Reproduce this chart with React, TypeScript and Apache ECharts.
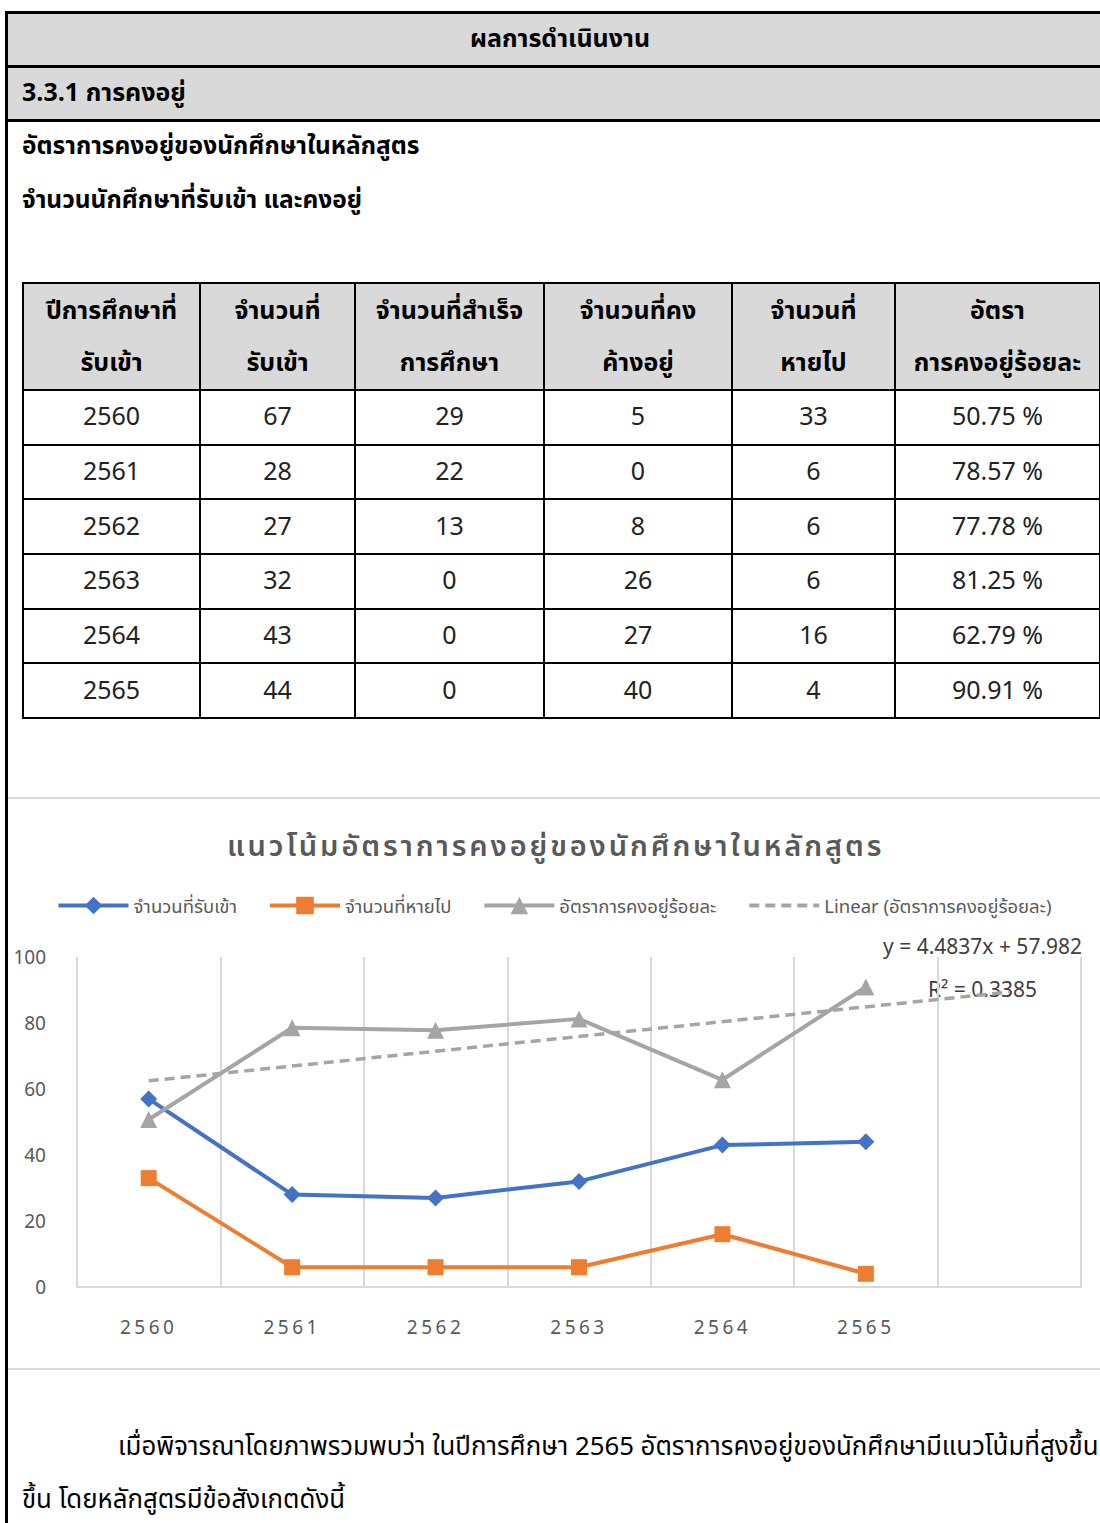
import React, { useEffect, useRef } from "react";
import * as echarts from "echarts";

// ---- table data ----
const years = ["2560", "2561", "2562", "2563", "2564", "2565"];
const admitted = [67, 28, 27, 32, 43, 44];
const graduated = [29, 22, 13, 0, 0, 0];
const remaining = [5, 0, 8, 26, 27, 40];
const lost = [33, 6, 6, 6, 16, 4];
const retention = [50.75, 78.57, 77.78, 81.25, 62.79, 90.91];

// ---- chart data (as plotted) ----
const chartCategories = ["2560", "2561", "2562", "2563", "2564", "2565", ""];
const admittedPlotted = [57, 28, 27, 32, 43, 44];
const lostPlotted = [33, 6, 6, 6, 16, 4];
const retentionPlotted = [50.75, 78.57, 77.78, 81.25, 62.79, 90.91];
const trendPoints = [62.47, null, null, null, null, null, 89.37];
const yTicks = [0, 20, 40, 60, 80, 100];

const chartTitle = "แนวโน้มอัตราการคงอยู่ของนักศึกษาในหลักสูตร";
const seriesNames = [
  "จำนวนที่รับเข้า",
  "จำนวนที่หายไป",
  "อัตราการคงอยู่ร้อยละ",
  "Linear (อัตราการคงอยู่ร้อยละ)",
];
const equationText = "y = 4.4837x + 57.982";
const r2Text = "R² = 0.3385";

const headerCols = [
  ["ปีการศึกษาที่", "รับเข้า"],
  ["จำนวนที่", "รับเข้า"],
  ["จำนวนที่สำเร็จ", "การศึกษา"],
  ["จำนวนที่คง", "ค้างอยู่"],
  ["จำนวนที่", "หายไป"],
  ["อัตรา", "การคงอยู่ร้อยละ"],
];
const colWidths = [177, 155, 189, 188, 163, 205];

const THAI = "Tahoma, 'Noto Sans Thai', 'Noto Sans', 'Leelawadee UI', sans-serif";
const CHARTFONT = "'Noto Sans', 'Noto Sans Thai', Tahoma, sans-serif";

function Chart() {
  const ref = useRef<HTMLDivElement>(null);
  useEffect(() => {
    if (!ref.current) return;
    const el = ref.current;
    const chart = echarts.init(el, undefined, { renderer: "svg" });
    const blue = "#4472C4";
    const orange = "#ED7D31";
    const gray = "#A5A5A5";
    const spaceTexts = () => {
      el.querySelectorAll("text").forEach((t) => {
        const s = t.textContent || "";
        if (s === chartTitle) {
          (t as SVGTextElement).style.letterSpacing = "2.9px";
        } else if (years.indexOf(s) >= 0) {
          (t as SVGTextElement).style.letterSpacing = "3.5px";
        }
      });
    };
    chart.on("finished", spaceTexts);
    chart.setOption({
      animation: false,
      backgroundColor: "#ffffff",
      title: {
        text: chartTitle,
        left: 214,
        top: 26,
        textStyle: {
          fontSize: 29,
          fontWeight: 600,
          color: "#595959",
          fontFamily: CHARTFONT,
        },
      },
      legend: {
        top: 92,
        left: "center",
        itemWidth: 70,
        itemHeight: 22,
        itemGap: 31,
        lineStyle: { width: 4 },
        textStyle: { fontSize: 18.5, color: "#595959", fontFamily: CHARTFONT },
        data: [
          seriesNames[0],
          seriesNames[1],
          seriesNames[2],
          { name: seriesNames[3], itemStyle: { opacity: 0 } },
        ],
      },
      grid: { left: 69, right: 19, top: 158, bottom: 81 },
      xAxis: {
        type: "category",
        data: chartCategories,
        boundaryGap: true,
        axisLine: { show: true, lineStyle: { color: "#d9d9d9", width: 2 } },
        axisTick: { show: false },
        splitLine: { show: true, lineStyle: { color: "#d9d9d9", width: 2 } },
        axisLabel: {
          margin: 30,
          fontSize: 19,
          color: "#595959",
          fontFamily: CHARTFONT,
          interval: 0,
        },
      },
      yAxis: {
        type: "value",
        min: yTicks[0],
        max: yTicks[yTicks.length - 1],
        interval: 20,
        axisLine: { show: false },
        axisTick: { show: false },
        splitLine: { show: false },
        axisLabel: {
          margin: 31,
          fontSize: 19,
          color: "#595959",
          fontFamily: CHARTFONT,
          padding: [0, 0, 6, 0],
        },
      },
      series: [
        {
          name: seriesNames[0],
          type: "line",
          data: admittedPlotted,
          symbol: "diamond",
          symbolSize: 17,
          color: blue,
          lineStyle: { width: 4, color: blue },
          itemStyle: { color: blue },
          z: 3,
        },
        {
          name: seriesNames[1],
          type: "line",
          data: lostPlotted,
          symbol: "rect",
          symbolSize: 16,
          color: orange,
          lineStyle: { width: 4, color: orange },
          itemStyle: { color: orange },
          z: 3,
        },
        {
          name: seriesNames[2],
          type: "line",
          data: retentionPlotted,
          symbol: "triangle",
          symbolSize: 17,
          color: gray,
          lineStyle: { width: 4, color: gray },
          itemStyle: { color: gray },
          z: 3,
        },
        {
          name: seriesNames[3],
          type: "line",
          data: trendPoints,
          connectNulls: true,
          symbol: "none",
          color: gray,
          lineStyle: { width: 3.5, color: gray, type: [10, 6] },
          itemStyle: { color: gray },
          z: 2,
        },
      ],
      graphic: [
        {
          type: "text",
          left: 875,
          top: 136,
          style: {
            text: equationText,
            fontSize: 21,
            fill: "#404040",
            fontFamily: CHARTFONT,
          },
        },
        {
          type: "text",
          left: 920,
          top: 179,
          style: {
            text: r2Text,
            fontSize: 21,
            fill: "#404040",
            fontFamily: CHARTFONT,
          },
        },
      ],
    });
    spaceTexts();
    return () => chart.dispose();
  }, []);
  return (
    <div
      ref={ref}
      style={{ position: "absolute", left: 8, top: 799, width: 1092, height: 569 }}
    />
  );
}

export default function App() {
  const abs = (o: React.CSSProperties): React.CSSProperties => ({
    position: "absolute",
    ...o,
  });
  const cellBorder = "2px solid #000";
  return (
    <div
      style={{
        position: "absolute",
        left: 0,
        top: 0,
        width: 1100,
        height: 1523,
        overflow: "hidden",
        background: "#fff",
        fontFamily: THAI,
        color: "#000",
      }}
    >
      {/* header rows */}
      <div style={abs({ left: 8, top: 14, width: 1100, height: 51, background: "#d9d9d9" })} />
      <div
        style={abs({
          left: 8,
          top: 14,
          width: 1104,
          height: 51,
          lineHeight: "51px",
          textAlign: "center",
          fontWeight: 700,
          fontSize: 25,
        })}
      >
        ผลการดำเนินงาน
      </div>
      <div style={abs({ left: 8, top: 68, width: 1100, height: 51, background: "#d9d9d9" })} />
      <div
        style={abs({
          left: 22,
          top: 68,
          height: 51,
          lineHeight: "51px",
          fontWeight: 700,
          fontSize: 25,
          whiteSpace: "nowrap",
        })}
      >
        3.3.1 การคงอยู่
      </div>
      <div style={abs({ left: 5, top: 11, width: 1100, height: 3, background: "#000" })} />
      <div style={abs({ left: 5, top: 65, width: 1100, height: 3, background: "#000" })} />
      <div style={abs({ left: 5, top: 119, width: 1100, height: 3, background: "#000" })} />
      <div style={abs({ left: 5, top: 11, width: 3, height: 1512, background: "#000" })} />

      <div
        style={abs({ left: 22, top: 126, height: 42, lineHeight: "42px", fontWeight: 700, fontSize: 24.5, whiteSpace: "nowrap" })}
      >
        อัตราการคงอยู่ของนักศึกษาในหลักสูตร
      </div>
      <div
        style={abs({ left: 22, top: 180, height: 42, lineHeight: "42px", fontWeight: 700, fontSize: 24.5, whiteSpace: "nowrap" })}
      >
        จำนวนนักศึกษาที่รับเข้า และคงอยู่
      </div>

      {/* table */}
      <table
        style={abs({
          left: 22,
          top: 282,
          width: 1078,
          borderCollapse: "collapse",
          tableLayout: "fixed",
          fontFamily: THAI,
        })}
      >
        <colgroup>
          {colWidths.map((w, i) => (
            <col key={i} style={{ width: w }} />
          ))}
        </colgroup>
        <thead>
          <tr style={{ height: 107, background: "#d9d9d9" }}>
            {headerCols.map((h, i) => (
              <th
                key={i}
                style={{
                  border: cellBorder,
                  fontSize: 25,
                  fontWeight: 700,
                  lineHeight: "52px",
                  padding: 0,
                  textAlign: "center",
                }}
              >
                {h[0]}
                <br />
                {h[1]}
              </th>
            ))}
          </tr>
        </thead>
        <tbody>
          {years.map((y, r) => (
            <tr key={y} style={{ height: 54.7 }}>
              {[
                y,
                String(admitted[r]),
                String(graduated[r]),
                String(remaining[r]),
                String(lost[r]),
                retention[r].toFixed(2) + " %",
              ].map((v, c) => (
                <td
                  key={c}
                  style={{
                    border: cellBorder,
                    fontSize: 25,
                    fontWeight: 400,
                    padding: 0,
                    textAlign: "center",
                    color: "#222",
                  }}
                >
                  {v}
                </td>
              ))}
            </tr>
          ))}
        </tbody>
      </table>

      {/* chart box */}
      <div
        style={abs({
          left: 8,
          top: 797,
          width: 1110,
          height: 573,
          boxSizing: "border-box",
          border: "2px solid #d9d9d9",
        })}
      />
      <Chart />

      {/* paragraph */}
      <div
        style={abs({ left: 118, top: 1427, height: 42, lineHeight: "42px", fontSize: 25.8, whiteSpace: "nowrap" })}
      >
        เมื่อพิจารณาโดยภาพรวมพบว่า ในปีการศึกษา 2565 อัตราการคงอยู่ของนักศึกษามีแนวโน้มที่สูงขึ้น
      </div>
      <div
        style={abs({ left: 22, top: 1480, height: 42, lineHeight: "42px", fontSize: 25.8, whiteSpace: "nowrap" })}
      >
        ขึ้น โดยหลักสูตรมีข้อสังเกตดังนี้
      </div>
    </div>
  );
}
